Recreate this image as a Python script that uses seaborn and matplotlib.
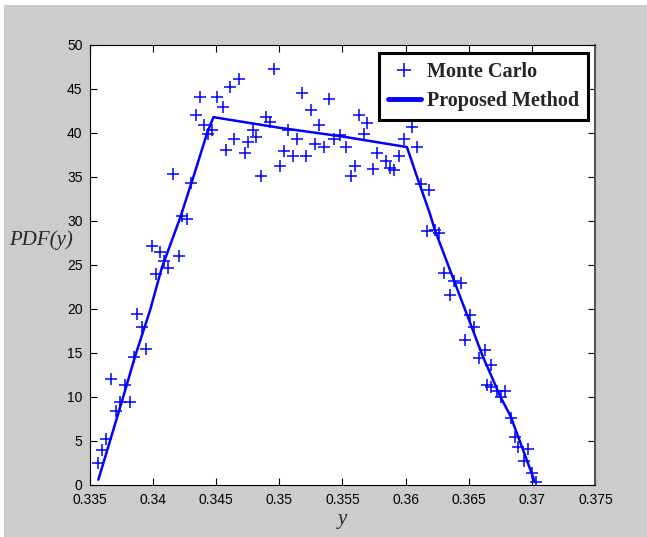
import matplotlib
matplotlib.use("Agg")
import matplotlib.pyplot as plt
import seaborn as sns
import pandas as pd
from matplotlib.lines import Line2D
from matplotlib.patches import Rectangle

# ---- data ----
mc_y = [0.33565, 0.33601, 0.33634, 0.33673, 0.33706, 0.33745, 0.33777, 0.33823, 0.33852, 0.33878,
        0.33918, 0.33950, 0.33993, 0.34025, 0.34058, 0.34091, 0.34123, 0.34162, 0.34205, 0.34228,
        0.34267, 0.34299, 0.34342, 0.34374, 0.34407, 0.34440, 0.34472, 0.34505, 0.34554, 0.34580,
        0.34613, 0.34645, 0.34684, 0.34733, 0.34750, 0.34789, 0.34815, 0.34857, 0.34896, 0.34929,
        0.34962, 0.35004, 0.35037, 0.35069, 0.35108, 0.35141, 0.35180, 0.35213, 0.35255, 0.35281,
        0.35314, 0.35353, 0.35392, 0.35435, 0.35484, 0.35526, 0.35565, 0.35598, 0.35630, 0.35670,
        0.35696, 0.35745, 0.35777, 0.35843, 0.35875, 0.35908, 0.35950, 0.35989, 0.36048, 0.36087,
        0.36120, 0.36185, 0.36169, 0.36234, 0.36267, 0.36299, 0.36348, 0.36381, 0.36440, 0.36472,
        0.36511, 0.36544, 0.36577, 0.36626, 0.36675, 0.36642, 0.36675, 0.36723, 0.36789, 0.36756,
        0.36831, 0.36864, 0.36887, 0.36968, 0.36936, 0.37001, 0.37033]
mc_pdf = [2.53, 4.01, 5.26, 12.07, 8.37, 9.42, 11.41, 9.46, 14.60, 19.39,
          17.91, 15.46, 27.14, 23.95, 26.48, 25.50, 24.61, 35.36, 25.97, 30.57,
          30.18, 34.27, 42.06, 44.08, 40.89, 39.91, 40.30, 44.08, 42.95, 38.04,
          45.25, 39.33, 46.14, 37.77, 38.94, 40.38, 39.52, 35.12, 41.86, 41.28,
          47.31, 36.29, 37.97, 40.30, 37.38, 39.33, 44.51, 37.38, 42.64, 38.75,
          40.89, 38.36, 43.81, 39.33, 39.72, 38.36, 35.12, 36.29, 42.06, 39.91,
          41.16, 35.90, 37.77, 36.80, 36.02, 35.83, 37.38, 39.33, 40.69, 38.36,
          34.19, 33.49, 28.89, 29.01, 28.62, 24.14, 21.61, 23.17, 22.97, 16.43,
          19.28, 17.91, 14.41, 15.30, 13.63, 11.41, 11.10, 10.71, 10.71, 10.01,
          7.59, 5.45, 4.28, 4.09, 2.73, 1.36, 0.39]

pm_y = [0.3357, 0.3376, 0.3386, 0.3398, 0.3407, 0.3422, 0.3433, 0.3443, 0.3448,
        0.3500, 0.3550, 0.3601, 0.3609, 0.3619, 0.3623, 0.3638, 0.3651, 0.3661,
        0.3675, 0.3683, 0.3702]
pm_pdf = [0.6, 9.7, 14.6, 19.9, 24.6, 30.5, 35.4, 40.0, 41.8,
          40.6, 39.6, 38.4, 35.0, 30.9, 29.0, 23.3, 18.4, 14.6,
          10.0, 7.8, 0.4]

x_ticks = [0.335, 0.34, 0.345, 0.35, 0.355, 0.36, 0.365, 0.37, 0.375]
x_tick_labels = ["0.335", "0.34", "0.345", "0.35", "0.355", "0.36", "0.365", "0.37", "0.375"]
y_ticks = [0, 5, 10, 15, 20, 25, 30, 35, 40, 45, 50]
series_labels = ["Monte Carlo", "Proposed Method"]

mc_df = pd.DataFrame({"y": mc_y, "pdf": mc_pdf})
pm_df = pd.DataFrame({"y": pm_y, "pdf": pm_pdf})

# ---- figure ----
sns.set_style("ticks")
plt.rcParams["font.family"] = ["Liberation Sans", "DejaVu Sans"]

gray = "#cccccc"
fig = plt.figure(figsize=(6.47, 5.37), dpi=100, facecolor="white")
fig.patches.append(Rectangle((4 / 647, -0.01), 1.01, 1.01 - 5 / 537, transform=fig.transFigure,
                             facecolor=gray, edgecolor="none", zorder=-10))
ax = fig.add_axes([89.5 / 647, 52 / 537, (595.4 - 89.5) / 647, (485 - 45) / 537])
ax.set_facecolor("white")

sns.lineplot(data=pm_df, x="y", y="pdf", ax=ax, color="#0000ff", linewidth=1.8,
             sort=False, estimator=None, legend=False, zorder=3)
sns.scatterplot(data=mc_df, x="y", y="pdf", ax=ax, marker="+", s=75, color="#0000ff",
                linewidth=1.1, legend=False, zorder=4)

ax.set_xlim(0.335, 0.375)
ax.set_ylim(0, 50)
ax.set_xticks(x_ticks)
ax.set_xticklabels(x_tick_labels)
ax.set_yticks(y_ticks)
for s in ax.spines.values():
    s.set_visible(True)
    s.set_color("black")
    s.set_linewidth(0.8)
ax.spines["right"].set_color("#555555")
ax.spines["right"].set_linewidth(1.5)
ax.tick_params(direction="in", top=True, right=True, length=5, width=0.8,
               labelsize=10, colors="black", pad=5)
ax.tick_params(axis="x", pad=6)

ax.set_xlabel("y", family=["Liberation Serif"], style="italic", fontsize=15, labelpad=2)
ax.set_ylabel("PDF(y)", family=["Liberation Serif"], style="italic", fontsize=15,
              rotation=0, labelpad=0, va="center")
ax.yaxis.set_label_coords(-0.095, 0.557)

handles = [Line2D([], [], color="#0000ff", marker="+", linestyle="none", markersize=10,
                  markeredgewidth=1.1),
           Line2D([], [], color="#0000ff", linewidth=3.5)]
leg = ax.legend(handles, series_labels, loc="upper right", bbox_to_anchor=(0.985, 0.982),
                borderaxespad=0, fancybox=False, framealpha=1, edgecolor="black",
                prop={"family": ["Liberation Serif"], "weight": "bold", "size": 14.5},
                handlelength=1.6, handletextpad=0.3, borderpad=0.45, labelspacing=0.45)
leg.get_frame().set_linewidth(2.2)

fig.savefig("out.png", dpi=100, facecolor=fig.get_facecolor())
